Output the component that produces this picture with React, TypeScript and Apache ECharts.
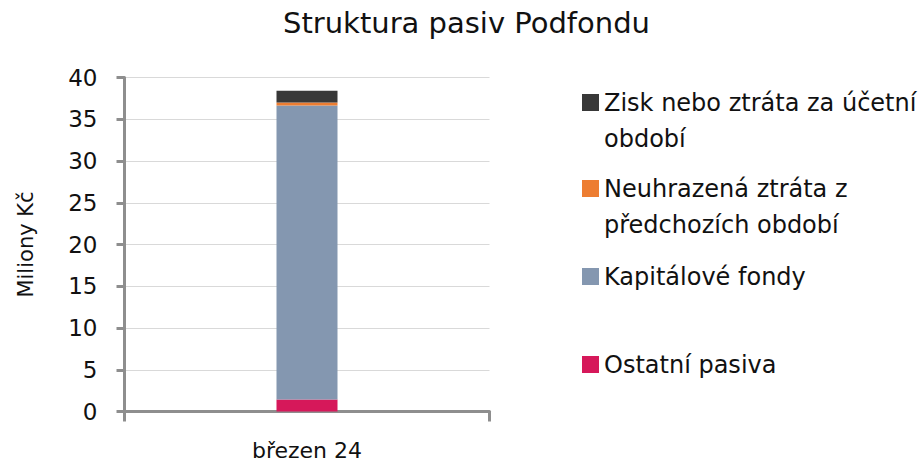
import React, { useEffect, useRef } from 'react';
import * as echarts from 'echarts';

const categories = ['březen 24'];
const ostatniPasiva = [1.45];
const kapitaloveFondy = [35.2];
const neuhrazenaZtrata = [0.36];
const ziskZtrata = [1.4];

const seriesNames = [
  'Ostatní pasiva',
  'Kapitálové fondy',
  'Neuhrazená ztráta z předchozích období',
  'Zisk nebo ztráta za účetní období',
];
const seriesColors = ['#D6185A', '#8497B0', '#ED7D31', '#383838'];
const legendLines: Record<string, string[]> = {
  'Zisk nebo ztráta za účetní období': ['Zisk nebo ztráta za účetní', 'období'],
  'Neuhrazená ztráta z předchozích období': ['Neuhrazená ztráta z', 'předchozích období'],
  'Kapitálové fondy': ['Kapitálové fondy'],
  'Ostatní pasiva': ['Ostatní pasiva'],
};
const legendOrder = [
  'Zisk nebo ztráta za účetní období',
  'Neuhrazená ztráta z předchozích období',
  'Kapitálové fondy',
  'Ostatní pasiva',
];
const legendCenters = [102.5, 188.5, 276.5, 364.5];

const FONT = '"DejaVu Sans", sans-serif';
const AXIS_COLOR = '#8E8E8E';
const LINE_H = 36;

export default function App() {
  const ref = useRef<HTMLDivElement>(null);
  useEffect(() => {
    if (!ref.current) return;
    const chart = echarts.init(ref.current, undefined, { renderer: 'svg' });
    const values = [ostatniPasiva, kapitaloveFondy, neuhrazenaZtrata, ziskZtrata];
    const legends = legendOrder.map((name, i) => {
      const lines = legendLines[name];
      const twoLine = lines.length > 1;
      const blockH = twoLine ? LINE_H * 3 : LINE_H;
      return {
        data: [name],
        left: 582,
        top: legendCenters[i] - blockH / 2,
        padding: 0,
        orient: 'vertical',
        icon: 'rect',
        itemWidth: 17,
        itemHeight: 17,
        selectedMode: false,
        formatter: (n: string) => {
          const ls = legendLines[n];
          return ls.length > 1 ? [' ', ...ls].join('\n') : ls[0];
        },
        textStyle: {
          fontFamily: FONT,
          fontSize: 24,
          color: '#111',
          lineHeight: LINE_H,
        },
      };
    });
    chart.setOption({
      animation: false,
      textStyle: { fontFamily: FONT },
      title: {
        text: 'Struktura pasiv Podfondu',
        left: 283,
        top: 8,
        padding: 0,
        textStyle: { fontFamily: FONT, fontSize: 29, fontWeight: 'normal', color: '#111' },
      },
      legend: legends,
      grid: { left: 124.5, right: 433.5, top: 77.5, bottom: 52.5, containLabel: false },
      xAxis: {
        type: 'category',
        data: categories,
        axisLine: { lineStyle: { color: AXIS_COLOR, width: 3 } },
        axisTick: { show: true, length: 10, lineStyle: { color: AXIS_COLOR, width: 3 } },
        axisLabel: { fontFamily: FONT, fontSize: 22, color: '#111', margin: 28 },
      },
      yAxis: {
        type: 'value',
        min: 0,
        max: 40,
        interval: 5,
        name: 'Miliony Kč',
        nameLocation: 'middle',
        nameGap: 88,
        nameTextStyle: { fontFamily: FONT, fontSize: 21, color: '#111' },
        axisLine: { show: true, lineStyle: { color: AXIS_COLOR, width: 3 } },
        axisTick: { show: true, length: 8, lineStyle: { color: AXIS_COLOR, width: 3 } },
        axisLabel: { fontFamily: FONT, fontSize: 23, color: '#111', margin: 27 },
        splitLine: { show: true, lineStyle: { color: '#D9D9D9', width: 1 } },
      },
      series: seriesNames.map((name, i) => ({
        name,
        type: 'bar',
        stack: 'total',
        barWidth: 61,
        data: values[i],
        itemStyle: { color: seriesColors[i] },
      })),
    });
    return () => chart.dispose();
  }, []);
  return (
    <div
      ref={ref}
      style={{ position: 'fixed', left: 0, top: 0, width: 923, height: 464, background: '#fff' }}
    />
  );
}
